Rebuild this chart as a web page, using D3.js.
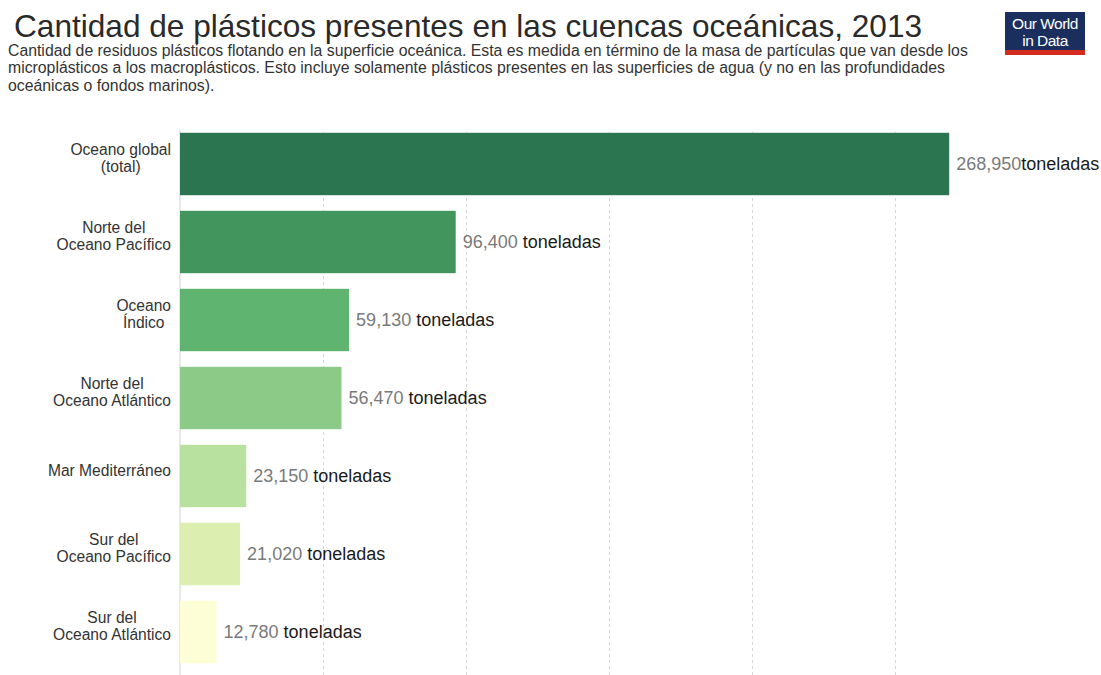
<!DOCTYPE html>
<html>
<head>
<meta charset="utf-8">
<script src="https://cdn.jsdelivr.net/npm/d3@7"></script>
<style>
  html, body { margin: 0; padding: 0; background: #fff; }
  svg { display: block; font-family: "Liberation Sans", Arial, sans-serif; }
</style>
</head>
<body>
<svg id="chart" width="1101" height="675"></svg>
<script>
// Plastic mass floating on ocean surfaces, by basin (tonnes), 2013
const categories = [
  ["Oceano global", "(total)"],
  ["Norte del", "Oceano Pacífico"],
  ["Oceano", "Índico"],
  ["Norte del", "Oceano Atlántico"],
  ["Mar Mediterráneo"],
  ["Sur del", "Oceano Pacífico"],
  ["Sur del", "Oceano Atlántico"]
];
const values = [268950, 96400, 59130, 56470, 23150, 21020, 12780];
const barColors = ["#2b7551", "#42955d", "#5fb46f", "#8bcb87", "#b8e09e", "#dcefb0", "#fdfed5"];
const gridTicks = [50000, 100000, 150000, 200000, 250000];
const unitLabel = "toneladas";

const title = "Cantidad de plásticos presentes en las cuencas oceánicas, 2013";
const subtitleLines = [
  "Cantidad de residuos plásticos flotando en la superficie oceánica. Esta es medida en término de la masa de partículas que van desde los",
  "microplásticos a los macroplásticos. Esto incluye solamente plásticos presentes en las superficies de agua (y no en las profundidades",
  "oceánicas o fondos marinos)."
];

const svg = d3.select("#chart");
const fmt = d3.format(",");

// Header
svg.append("text")
  .attr("x", 14).attr("y", 37)
  .attr("font-size", 31.6)
  .attr("fill", "#2a2a2a")
  .text(title);

svg.append("g").selectAll("text")
  .data(subtitleLines)
  .join("text")
  .attr("x", 8)
  .attr("y", (d, i) => 56 + i * 17.3)
  .attr("font-size", 15.8)
  .attr("fill", "#333")
  .text(d => d);

// Logo
const logo = svg.append("g").attr("transform", "translate(1005,12)");
logo.append("rect").attr("width", 80).attr("height", 43).attr("fill", "#1b2f5e");
logo.append("rect").attr("y", 38).attr("width", 80).attr("height", 5).attr("fill", "#d42b21");
logo.append("text").attr("x", 40).attr("y", 16.5).attr("text-anchor", "middle")
  .attr("font-size", 15.5).attr("fill", "#fff").attr("letter-spacing", -0.5).text("Our World");
logo.append("text").attr("x", 40).attr("y", 33.5).attr("text-anchor", "middle")
  .attr("font-size", 15.5).attr("fill", "#fff").attr("letter-spacing", -0.5).text("in Data");

// Scales
const x = d3.scaleLinear().domain([0, 250000]).range([180, 895]);
const y = d3.scaleBand()
  .domain(d3.range(values.length))
  .range([125, 671])
  .paddingInner(0.2)
  .paddingOuter(0.1);

// Grid lines
const grid = svg.append("g")
  .attr("transform", "translate(0,675)")
  .call(d3.axisBottom(x).tickValues(gridTicks).tickSize(-545).tickFormat(""));
grid.select(".domain").remove();
grid.selectAll(".tick line")
  .attr("stroke", "#d6d6d6")
  .attr("stroke-dasharray", "3,3");

// Baseline at zero
svg.append("line")
  .attr("x1", x(0)).attr("x2", x(0))
  .attr("y1", 130).attr("y2", 675)
  .attr("stroke", "#d0d0d0");

// Bars
svg.append("g").selectAll("rect")
  .data(values)
  .join("rect")
  .attr("x", x(0))
  .attr("y", (d, i) => y(i))
  .attr("width", d => x(d) - x(0))
  .attr("height", y.bandwidth())
  .attr("fill", (d, i) => barColors[i]);

// Value labels
const vl = svg.append("g").selectAll("text")
  .data(values)
  .join("text")
  .attr("x", d => x(d) + 7)
  .attr("y", (d, i) => y(i) + y.bandwidth() / 2 + 5.5)
  .attr("font-size", 18);
vl.append("tspan").attr("fill", "#7a7a7a").text(d => fmt(d));
vl.append("tspan").attr("fill", "#1a1a1a").attr("dx", (d, i) => i === 0 ? 0 : 5).text(unitLabel);

// Category labels: each block centred on its own widest line, right-aligned to the axis
const labelRight = 171;
const lineH = 17.7;
categories.forEach((lines, i) => {
  const g = svg.append("g");
  const cy = y(i) + y.bandwidth() / 2 - 6;
  const texts = g.selectAll("text")
    .data(lines)
    .join("text")
    .attr("font-size", 15.6)
    .attr("fill", "#333")
    .attr("text-anchor", "middle")
    .attr("y", (d, j) => cy + (j - (lines.length - 1) / 2) * lineH + 5.5)
    .text(d => d);
  let maxW = 0;
  texts.each(function () { maxW = Math.max(maxW, this.getComputedTextLength()); });
  texts.attr("x", labelRight - maxW / 2);
});
</script>
</body>
</html>
